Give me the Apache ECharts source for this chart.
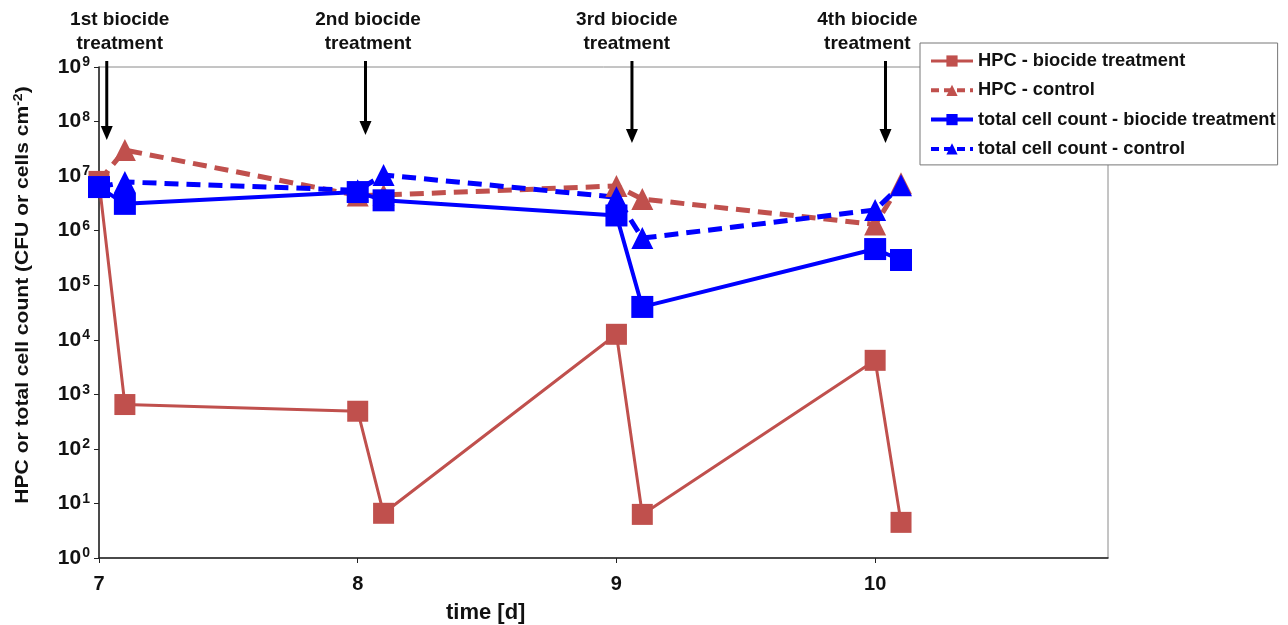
<!DOCTYPE html>
<html><head><meta charset="utf-8">
<script src="https://cdn.jsdelivr.net/npm/echarts@6/dist/echarts.min.js"></script>
<style>html,body{margin:0;padding:0;background:#fff}#c{width:1288px;height:625px}</style>
</head><body><div id="c"></div>
<script>
const days = [7, 7.1, 8, 8.1, 9, 9.1, 10, 10.1];
const hpcTreat = [8e6, 650, 490, 6.6, 12600, 6.3, 4200, 4.5];
const hpcCtrl = [8e6, 3e7, 4.4e6, 4.5e6, 6.6e6, 3.8e6, 1.3e6, 7.4e6];
const tccTreat = [6.3e6, 3.1e6, 5.1e6, 3.6e6, 1.9e6, 4e4, 4.6e5, 2.9e5];
const tccCtrl = [6.3e6, 7.8e6, 5.5e6, 1.05e7, 4.1e6, 7.3e5, 2.4e6, 6.8e6];
const seriesNames = ['HPC - biocide treatment', 'HPC - control', 'total cell count - biocide treatment', 'total cell count - control'];
const treatmentDays = [7.03, 8.03, 9.06, 10.04];
const treatmentLabels = ['1st biocide\ntreatment', '2nd biocide\ntreatment', '3rd biocide\ntreatment', '4th biocide\ntreatment'];
const labelDays = [7.08, 8.04, 9.04, 9.97];
const xTitle = 'time [d]';
const yTitle = ['HPC or total cell count (CFU or cells cm', '-2', ')'];

const RED = '#C0504D', BLUE = '#0000FF';
const FONT = 'Liberation Sans, Arial, sans-serif';
const pairs = arr => days.map((d, i) => [d, arr[i]]);

const chart = echarts.init(document.getElementById('c'));
const option = {
  animation: false,
  backgroundColor: '#fff',
  textStyle: { fontFamily: FONT },
  grid: { left: 99, right: 180, top: 67, bottom: 67, show: true, borderColor: '#8a8a8a', borderWidth: 1, backgroundColor: '#fff' },
  title: { text: xTitle, left: 441, top: 597, textStyle: { fontFamily: FONT, fontWeight: 'bold', fontSize: 22, color: '#111' } },
  legend: {
    orient: 'vertical', left: 920, top: 43,
    backgroundColor: '#fff', borderColor: '#777', borderWidth: 1,
    padding: [9, 2, 7, 9], itemGap: 11.3, itemWidth: 42, itemHeight: 14,
    textStyle: { fontFamily: FONT, fontWeight: 'bold', fontSize: 18.3, color: '#111' },
    data: [
      { name: seriesNames[0], lineStyle: { width: 3, type: 'solid' } },
      { name: seriesNames[1], lineStyle: { width: 4, type: [8, 5] } },
      { name: seriesNames[2], lineStyle: { width: 4, type: 'solid' } },
      { name: seriesNames[3], lineStyle: { width: 4, type: [8, 5] } }
    ]
  },
  xAxis: {
    type: 'value', min: 7, max: 10.9, interval: 1,
    splitLine: { show: false },
    axisLine: { onZero: false, lineStyle: { color: '#222', width: 1.5 } },
    axisTick: { show: true, length: 5, lineStyle: { color: '#222' } },
    axisLabel: { showMaxLabel: false, margin: 16, fontFamily: FONT, fontWeight: 'bold', fontSize: 20, color: '#111',
      formatter: v => Number.isInteger(v) ? String(v) : '' }
  },
  yAxis: {
    type: 'log', logBase: 10, min: 1, max: 1e9,
    splitLine: { show: false },
    axisLine: { show: true, lineStyle: { color: '#222', width: 1.5 } },
    axisTick: { show: true, length: 5, lineStyle: { color: '#222' } },
    axisLabel: {
      margin: 9,
      formatter: v => '{b|10}{s|' + Math.round(Math.log10(v)) + '}',
      rich: {
        b: { fontFamily: FONT, fontWeight: 'bold', fontSize: 21, color: '#111', lineHeight: 22 },
        s: { fontFamily: FONT, fontWeight: 'bold', fontSize: 14, color: '#111', lineHeight: 22, padding: [0, 0, 9, 1] }
      }
    }
  },
  series: [
    { name: seriesNames[0], type: 'line', data: pairs(hpcTreat), symbol: 'rect', symbolSize: 21,
      lineStyle: { color: RED, width: 3 }, itemStyle: { color: RED } },
    { name: seriesNames[1], type: 'line', data: pairs(hpcCtrl), symbol: 'triangle', symbolSize: 22,
      lineStyle: { color: RED, width: 5, type: [14, 8] }, itemStyle: { color: RED } },
    { name: seriesNames[2], type: 'line', data: pairs(tccTreat), symbol: 'rect', symbolSize: 22,
      lineStyle: { color: BLUE, width: 4 }, itemStyle: { color: BLUE } },
    { name: seriesNames[3], type: 'line', data: pairs(tccCtrl), symbol: 'triangle', symbolSize: 22,
      lineStyle: { color: BLUE, width: 5, type: [14, 8] }, itemStyle: { color: BLUE } }
  ]
};
chart.setOption(option);

// annotations: arrows, labels, y-axis title
const graphics = [];
treatmentDays.forEach((d, i) => {
  const x = chart.convertToPixel({ gridIndex: 0 }, [d, 1])[0];
  const lx = chart.convertToPixel({ gridIndex: 0 }, [labelDays[i], 1])[0];
  const tipY = [140, 135, 143, 143][i];
  graphics.push({ type: 'line', shape: { x1: x, y1: 61, x2: x, y2: tipY - 10 }, style: { stroke: '#000', lineWidth: 3 }, z: 10 });
  graphics.push({ type: 'polygon', shape: { points: [[x - 6, tipY - 14], [x + 6, tipY - 14], [x, tipY]] }, style: { fill: '#000' }, z: 10 });
  graphics.push({ type: 'text', x: lx, y: 8, style: { text: treatmentLabels[i], font: 'bold 19px Liberation Sans, Arial, sans-serif', fill: '#111', textAlign: 'center', lineHeight: 24 }, z: 10 });
});
graphics.push({
  type: 'text', x: 23, y: 295, rotation: Math.PI / 2, scaleX: 1.17, scaleY: 1,
  style: {
    text: '{a|' + yTitle[0] + '}{s|' + yTitle[1] + '}{a|' + yTitle[2] + '}',
    textAlign: 'center', textVerticalAlign: 'middle',
    rich: {
      a: { font: 'bold 18px Liberation Sans, Arial, sans-serif', fill: '#111', lineHeight: 22 },
      s: { font: 'bold 12px Liberation Sans, Arial, sans-serif', fill: '#111', lineHeight: 22, padding: [0, 0, 9, 0] }
    }
  }, z: 10
});
chart.setOption({ graphic: graphics });
</script></body></html>
